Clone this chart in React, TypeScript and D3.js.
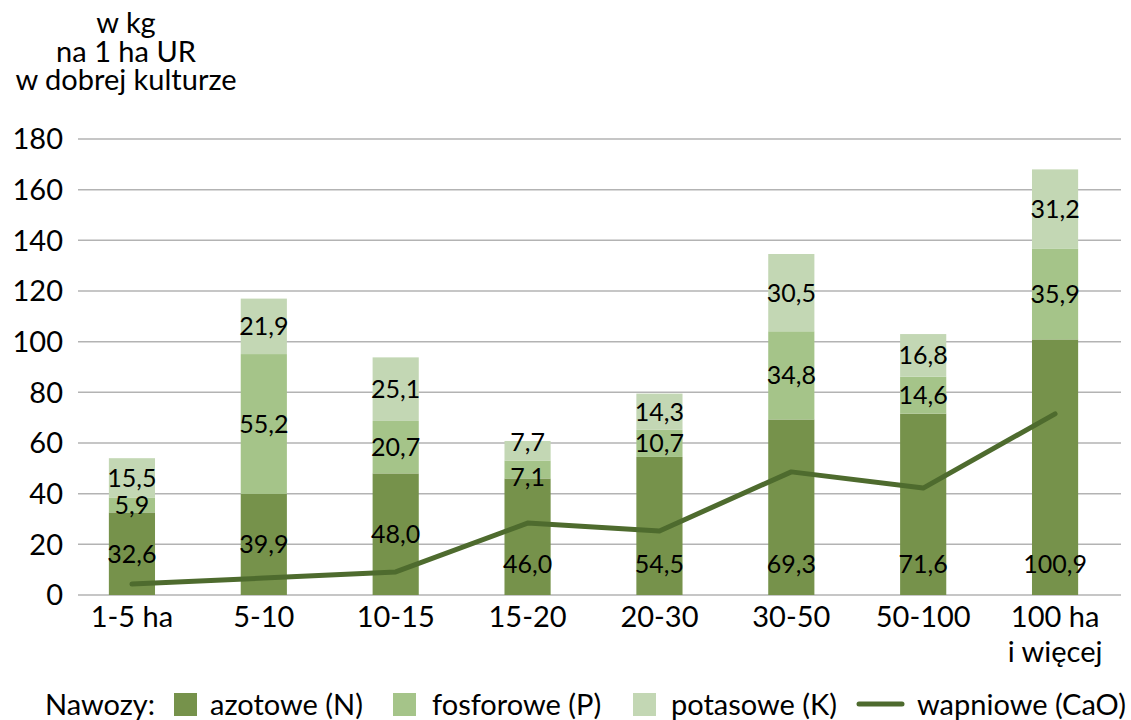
import React from 'react';
import * as d3 from 'd3';

const categories = ['1-5 ha', '5-10', '10-15', '15-20', '20-30', '30-50', '50-100', '100 ha\ni więcej'];
const azotowe = [32.6, 39.9, 48.0, 46.0, 54.5, 69.3, 71.6, 100.9];
const fosforowe = [5.9, 55.2, 20.7, 7.1, 10.7, 34.8, 14.6, 35.9];
const potasowe = [15.5, 21.9, 25.1, 7.7, 14.3, 30.5, 16.8, 31.2];
const wapniowe = [4.3, 6.7, 9.1, 28.4, 25.3, 48.6, 42.2, 71.5];
// labels of N placed at the bar base (to keep clear of the CaO line)
const nAtBase = [false, false, false, true, true, true, true, true];
const yTicks = [0, 20, 40, 60, 80, 100, 120, 140, 160, 180];
const titleLines = ['w kg', 'na 1 ha UR', 'w dobrej kulturze'];

const W = 1131;
const H = 720;
const FONT = 'Lato, "Open Sans", sans-serif';

const colors = {
  N: '#76924b',
  P: '#a5c489',
  K: '#c3d7b4',
  CaO: '#4e6b2e',
  grid: '#b3b3b3',
};

const fmt = (v: number) => v.toFixed(1).replace('.', ',');

export default function App() {
  const x = d3.scaleBand<string>().domain(categories).range([66, 1121]).paddingInner(0.65).paddingOuter(0.325);
  const y = d3.scaleLinear().domain([0, 180]).range([595, 139]);
  const bw = x.bandwidth();
  const cxOf = (i: number) => (x(categories[i]) as number) + bw / 2;

  const stackData = categories.map((c, i) => ({ cat: c, N: azotowe[i], P: fosforowe[i], K: potasowe[i] }));
  const series = d3.stack<any>().keys(['N', 'P', 'K'])(stackData);

  const line = d3
    .line<number>()
    .x((_, i) => cxOf(i))
    .y((d) => y(d));

  const legend = [
    { label: 'azotowe (N)', color: colors.N, sx: 174, tx: 210 },
    { label: 'fosforowe (P)', color: colors.P, sx: 393, tx: 432 },
    { label: 'potasowe (K)', color: colors.K, sx: 633, tx: 671 },
  ];

  const labelY = (key: string, i: number, d: [number, number]) => {
    if (key === 'N' && nAtBase[i]) return y(0) - 31;
    const mid = (y(d[0]) + y(d[1])) / 2;
    // two thin top segments: spread their labels apart
    const thin = y(0) - y(fosforowe[i]) < 25 && y(0) - y(potasowe[i]) < 25;
    if (thin && key === 'K') return mid - 9;
    if (thin && key === 'P') return mid + 8;
    return mid;
  };

  return (
    <svg width={W} height={H} style={{ position: 'absolute', left: 0, top: 0, fontFamily: FONT }}>
      <rect width={W} height={H} fill="#fff" />

      {/* axis title */}
      <text x={126} y={33} textAnchor="middle" fontSize={29} fill="#000">
        {titleLines.map((t, i) => (
          <tspan key={t} x={126} dy={i === 0 ? 0 : 28.5}>
            {t}
          </tspan>
        ))}
      </text>

      {/* grid */}
      {yTicks.map((t) => (
        <g key={t}>
          <line x1={78} x2={1121} y1={y(t)} y2={y(t)} stroke={colors.grid} strokeWidth={1.5} />
          <text x={63} y={y(t)} dy="0.36em" textAnchor="end" fontSize={29} fill="#000">
            {t}
          </text>
        </g>
      ))}

      {/* stacked bars */}
      {series.map((s) => (
        <g key={s.key} fill={(colors as any)[s.key]}>
          {s.map((d, i) => (
            <rect key={i} x={x(categories[i])} y={y(d[1])} width={bw} height={y(d[0]) - y(d[1])} />
          ))}
        </g>
      ))}

      {/* CaO line */}
      <path d={line(wapniowe) || ''} fill="none" stroke={colors.CaO} strokeWidth={5} strokeLinecap="round" strokeLinejoin="round" />

      {/* data labels */}
      {series.map((s) =>
        s.map((d, i) => (
          <text key={s.key + i} x={cxOf(i)} y={labelY(s.key, i, d as any)} dy="0.36em" textAnchor="middle" fontSize={25} fill="#000">
            {fmt(d[1] - d[0])}
          </text>
        ))
      )}

      {/* x labels */}
      {categories.map((c, i) => (
        <text key={c} x={cxOf(i)} y={627} textAnchor="middle" fontSize={29} fill="#000">
          {c.split('\n').map((l, j) => (
            <tspan key={j} x={cxOf(i)} dy={j === 0 ? 0 : 35}>
              {l}
            </tspan>
          ))}
        </text>
      ))}

      {/* legend */}
      <text x={45} y={715} fontSize={29} fill="#000">
        Nawozy:
      </text>
      {legend.map((l) => (
        <g key={l.label}>
          <rect x={l.sx} y={693} width={23} height={23} fill={l.color} />
          <text x={l.tx} y={715} fontSize={29} fill="#000">
            {l.label}
          </text>
        </g>
      ))}
      <line x1={859} x2={902} y1={704} y2={704} stroke={colors.CaO} strokeWidth={5} strokeLinecap="round" />
      <text x={917} y={715} fontSize={29} fill="#000">
        wapniowe (CaO)
      </text>
    </svg>
  );
}
